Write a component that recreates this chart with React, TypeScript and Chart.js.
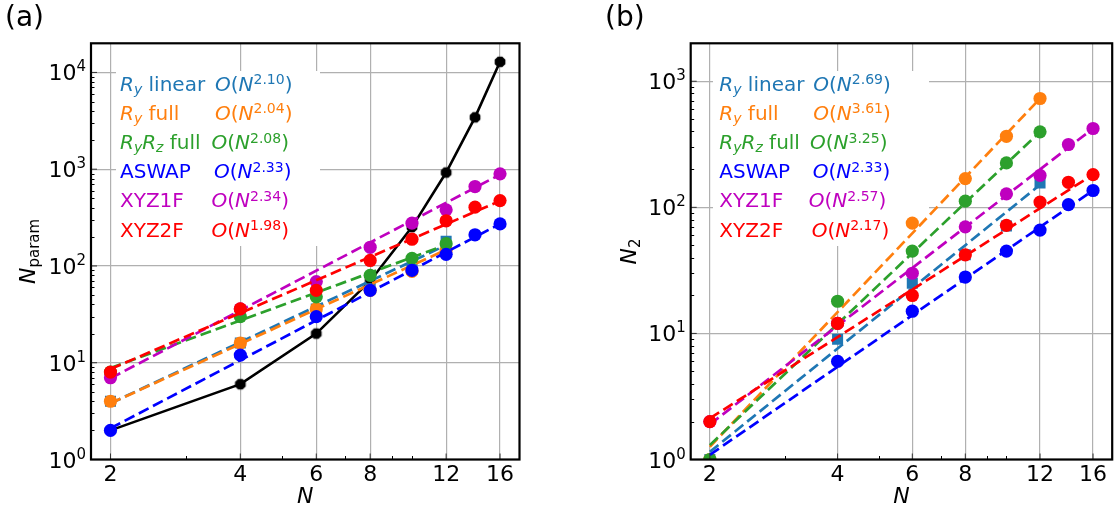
import React, { useEffect, useRef } from "react";
import { Chart, registerables } from "chart.js";

Chart.register(...registerables);

// ---------------- data ----------------
const N_ALL = [2, 4, 6, 8, 10, 12, 14, 16];
const N_TO_12 = [2, 4, 6, 8, 10, 12];
const N_FROM_4 = [4, 6, 8, 10, 12, 14, 16];
const X_TICKS = [2, 4, 6, 8, 12, 16];
const X_MINOR = [3, 5, 7, 9, 10];

// (a) N_param
const A_EXACT = [2, 6, 20, 70, 252, 924, 3432, 12870];
const A_RY_LINEAR = [4, 16, 36, 58, 92, 180];
const A_RY_FULL = [4, 16, 36, 56, 88, 146];
const A_RYRZ_FULL = [8, 30, 48, 80, 120, 170];
const A_ASWAP = [2, 12, 30, 56, 90, 132, 210, 272];
const A_XYZ1F = [7, 36, 69, 156, 277, 380, 662, 896];
const A_XYZ2F = [8, 36, 56, 114, 189, 293, 405, 474];
// fitted power-law lines: value at N=2 and at the last N of the series
const A_FIT_RY_LINEAR = [3.8, 164];
const A_FIT_RY_FULL = [3.8, 147];
const A_FIT_RYRZ_FULL = [8.8, 165];
const A_FIT_ASWAP = [2.1, 272];
const A_FIT_XYZ1F = [6.9, 880];
const A_FIT_XYZ2F = [8.6, 470];
const A_EXPONENTS = ["2.10", "2.04", "2.08", "2.33", "2.34", "1.98"];
const A_Y_TICK_EXPS = [0, 1, 2, 3, 4];

// (b) N_2
const B_RY_LINEAR = [1, 9, 25, 42, 71, 156];
const B_RY_FULL = [1, 12, 75, 169, 366, 730];
const B_RYRZ_FULL = [1, 18, 45, 112, 225, 397];
const B_ASWAP = [6, 15, 28, 45, 66, 105, 136];
const B_XYZ1F = [2, 12, 30, 70, 128, 179, 315, 422];
const B_XYZ2F = [2, 12, 20, 42, 72, 110, 158, 182];
const B_FIT_RY_LINEAR = [1.15, 151];
const B_FIT_RY_FULL = [1.26, 730];
const B_FIT_RYRZ_FULL = [1.3, 397];
const B_FIT_ASWAP = [1.09, 136];
const B_FIT_XYZ1F = [1.9, 422];
const B_FIT_XYZ2F = [2.12, 182];
const B_EXPONENTS = ["2.69", "3.61", "3.25", "2.33", "2.57", "2.17"];
const B_Y_TICK_EXPS = [0, 1, 2, 3];

// ---------------- styles ----------------
const COLORS = ["#1f77b4", "#ff7f0e", "#2ca02c", "#0000ff", "#bf00bf", "#ff0000"];
const MARKERS = ["rect", "circle", "circle", "circle", "circle", "circle"];
const FONT = '"DejaVu Sans"';

type Seg = { t: string; k: "n" | "i" | "sub" | "subn" | "sup" };

const NAME_SEGS: Seg[][] = [
  [{ t: "R", k: "i" }, { t: "y", k: "sub" }, { t: " linear", k: "n" }],
  [{ t: "R", k: "i" }, { t: "y", k: "sub" }, { t: " full", k: "n" }],
  [{ t: "R", k: "i" }, { t: "y", k: "sub" }, { t: "R", k: "i" }, { t: "z", k: "sub" }, { t: " full", k: "n" }],
  [{ t: "ASWAP", k: "n" }],
  [{ t: "XYZ1F", k: "n" }],
  [{ t: "XYZ2F", k: "n" }],
];

function segFont(s: Seg, size: number) {
  if (s.k === "i") return `italic ${size}px ${FONT}`;
  if (s.k === "sub") return `italic ${Math.round(size * 0.7)}px ${FONT}`;
  if (s.k === "subn" || s.k === "sup") return `${Math.round(size * 0.7)}px ${FONT}`;
  return `${size}px ${FONT}`;
}

function drawRich(ctx: CanvasRenderingContext2D, segs: Seg[], x: number, y: number, size: number, supRaise: number) {
  let cx = x;
  for (const s of segs) {
    let dy = 0;
    if (s.k === "sub") dy = size * 0.17;
    else if (s.k === "subn") dy = size * 0.2;
    else if (s.k === "sup") dy = -supRaise;
    ctx.font = segFont(s, size);
    ctx.fillText(s.t, cx, y + dy);
    cx += ctx.measureText(s.t).width;
  }
  return cx - x;
}

function measureRich(ctx: CanvasRenderingContext2D, segs: Seg[], size: number) {
  let w = 0;
  for (const s of segs) {
    ctx.font = segFont(s, size);
    w += ctx.measureText(s.t).width;
  }
  return w;
}

function octagonImage(r: number, color: string) {
  const c = document.createElement("canvas");
  const s = Math.ceil(r * 2 + 2);
  c.width = s;
  c.height = s;
  const g = c.getContext("2d")!;
  g.fillStyle = color;
  g.beginPath();
  for (let k = 0; k < 8; k++) {
    const a = Math.PI / 8 + (k * Math.PI) / 4;
    const px = s / 2 + r * Math.cos(a);
    const py = s / 2 + r * Math.sin(a);
    if (k === 0) g.moveTo(px, py);
    else g.lineTo(px, py);
  }
  g.closePath();
  g.fill();
  return c;
}

type Panel = {
  id: string;
  exact: number[] | null;
  series: number[][];
  seriesN: number[][];
  fits: number[][];
  exps: string[];
  yTickExps: number[];
  yMax: number;
  padding: { left: number; right: number; top: number; bottom: number };
  box: [number, number, number, number];
  legendX: number;
  formulaOffsets: number[];
  yTitle: Seg[];
  yTitleX: number;
  label: string;
  labelX: number;
};

const PANELS: Panel[] = [
  {
    id: "a",
    exact: A_EXACT,
    series: [A_RY_LINEAR, A_RY_FULL, A_RYRZ_FULL, A_ASWAP, A_XYZ1F, A_XYZ2F],
    seriesN: [N_TO_12, N_TO_12, N_TO_12, N_ALL, N_ALL, N_ALL],
    fits: [A_FIT_RY_LINEAR, A_FIT_RY_FULL, A_FIT_RYRZ_FULL, A_FIT_ASWAP, A_FIT_XYZ1F, A_FIT_XYZ2F],
    exps: A_EXPONENTS,
    yTickExps: A_Y_TICK_EXPS,
    yMax: 2e4,
    padding: { left: 91, right: 40.5, top: 43.3, bottom: 50.5 },
    box: [116, 71, 204, 175],
    legendX: 120,
    formulaOffsets: [95, 95, 91.5, 94, 91.5, 91.5],
    yTitle: [{ t: "N", k: "i" }, { t: "param", k: "subn" }],
    yTitleX: 35,
    label: "(a)",
    labelX: 5,
  },
  {
    id: "b",
    exact: null,
    series: [B_RY_LINEAR, B_RY_FULL, B_RYRZ_FULL, B_ASWAP, B_XYZ1F, B_XYZ2F],
    seriesN: [N_TO_12, N_TO_12, N_TO_12, N_FROM_4, N_ALL, N_ALL],
    fits: [B_FIT_RY_LINEAR, B_FIT_RY_FULL, B_FIT_RYRZ_FULL, B_FIT_ASWAP, B_FIT_XYZ1F, B_FIT_XYZ2F],
    exps: B_EXPONENTS,
    yTickExps: B_Y_TICK_EXPS,
    yMax: 2e3,
    padding: { left: 130.7, right: 1.3, top: 43.3, bottom: 50.5 },
    box: [153, 71, 216, 175],
    legendX: 159.3,
    formulaOffsets: [94, 94, 90.7, 93.4, 89.5, 92.4],
    yTitle: [{ t: "N", k: "i" }, { t: "2", k: "subn" }],
    yTitleX: 76,
    label: "(b)",
    labelX: 45,
  },
];

function buildDatasets(p: Panel) {
  const ds: any[] = [];
  if (p.exact) {
    ds.push({
      data: N_ALL.map((n, i) => ({ x: n, y: p.exact![i] })),
      borderColor: "#000000",
      borderWidth: 2.6,
      showLine: true,
      pointStyle: octagonImage(5.8, "#000000"),
      pointRadius: 6,
    });
  }
  p.series.forEach((vals, k) => {
    const ns = p.seriesN[k];
    ds.push({
      data: ns.map((n, i) => ({ x: n, y: vals[i] })),
      showLine: false,
      pointStyle: MARKERS[k],
      pointRadius: MARKERS[k] === "rect" ? 7.8 : 6.6,
      pointBackgroundColor: COLORS[k],
      pointBorderColor: COLORS[k],
      pointBorderWidth: 0,
      borderColor: COLORS[k],
    });
    ds.push({
      data: [
        { x: 2, y: p.fits[k][0] },
        { x: ns[ns.length - 1], y: p.fits[k][1] },
      ],
      showLine: true,
      borderColor: COLORS[k],
      borderWidth: 2.7,
      borderDash: [11, 5],
      pointRadius: 0,
    });
  });
  ds.forEach((d, i) => {
    d.order = -i;
    d.clip = 0;
    d.tension = 0;
  });
  return ds;
}

function overlayPlugin(p: Panel) {
  return {
    id: "overlay_" + p.id,
    beforeDatasetsDraw(chart: any) {
      const ctx: CanvasRenderingContext2D = chart.ctx;
      ctx.save();
      ctx.fillStyle = "#ffffff";
      ctx.fillRect(p.box[0], p.box[1], p.box[2], p.box[3]);
      ctx.restore();
    },
    afterDraw(chart: any) {
      const ctx: CanvasRenderingContext2D = chart.ctx;
      const a = chart.chartArea;
      const xs = chart.scales.x;
      const ys = chart.scales.y;
      ctx.save();

      // legend text
      ctx.textBaseline = "alphabetic";
      ctx.textAlign = "left";
      for (let k = 0; k < 6; k++) {
        const by = 90.6 + 29.2 * k;
        ctx.fillStyle = COLORS[k];
        drawRich(ctx, NAME_SEGS[k], p.legendX, by, 20, 6.5);
        const f: Seg[] = [
          { t: "O", k: "i" },
          { t: "(", k: "n" },
          { t: "N", k: "i" },
          { t: p.exps[k], k: "sup" },
          { t: ")", k: "n" },
        ];
        drawRich(ctx, f, p.legendX + p.formulaOffsets[k], by, 20, 6.5);
      }

      // minor ticks
      ctx.strokeStyle = "#000000";
      ctx.lineWidth = 1;
      const yMaxExp = Math.ceil(Math.log10(p.yMax));
      ctx.beginPath();
      for (let e = 0; e <= yMaxExp; e++) {
        for (let m = 2; m <= 9; m++) {
          const v = m * Math.pow(10, e);
          if (v > p.yMax) continue;
          const py = Math.round(ys.getPixelForValue(v)) + 0.5;
          ctx.moveTo(a.left, py);
          ctx.lineTo(a.left + 3.5, py);
        }
      }
      for (const v of X_MINOR) {
        const px = Math.round(xs.getPixelForValue(v)) + 0.5;
        ctx.moveTo(px, a.bottom);
        ctx.lineTo(px, a.bottom - 3.5);
      }
      ctx.stroke();
      // major ticks
      ctx.strokeStyle = "#333333";
      ctx.beginPath();
      for (const e of p.yTickExps) {
        const py = ys.getPixelForValue(Math.pow(10, e));
        ctx.moveTo(a.left, py);
        ctx.lineTo(a.left + 6, py);
      }
      for (const v of X_TICKS) {
        const px = xs.getPixelForValue(v);
        ctx.moveTo(px, a.bottom);
        ctx.lineTo(px, a.bottom - 6);
      }
      ctx.stroke();

      // frame
      ctx.strokeStyle = "#000000";
      ctx.lineWidth = 2.2;
      ctx.strokeRect(a.left, a.top, a.right - a.left, a.bottom - a.top);

      // tick labels
      ctx.fillStyle = "#000000";
      ctx.textAlign = "center";
      ctx.font = `22px ${FONT}`;
      for (const v of X_TICKS) {
        ctx.fillText(String(v), xs.getPixelForValue(v), 480.5);
      }
      ctx.textAlign = "left";
      for (const e of p.yTickExps) {
        const py = ys.getPixelForValue(Math.pow(10, e));
        ctx.font = `22px ${FONT}`;
        const w1 = ctx.measureText("10").width;
        ctx.font = `15px ${FONT}`;
        const w2 = ctx.measureText(String(e)).width;
        const x0 = a.left - 5 - w1 - w2;
        ctx.font = `22px ${FONT}`;
        ctx.fillText("10", x0, py + 8);
        ctx.font = `15px ${FONT}`;
        ctx.fillText(String(e), x0 + w1, py - 1);
      }

      // axis titles
      ctx.textAlign = "center";
      ctx.font = `italic 22px ${FONT}`;
      ctx.fillText("N", (a.left + a.right) / 2, 503);
      ctx.textAlign = "left";
      const tw = measureRich(ctx, p.yTitle, 22);
      ctx.save();
      ctx.translate(p.yTitleX, (a.top + a.bottom) / 2);
      ctx.rotate(-Math.PI / 2);
      drawRich(ctx, p.yTitle, -tw / 2, 0, 22, 0);
      ctx.restore();

      // panel label
      ctx.font = `28px ${FONT}`;
      ctx.fillText(p.label, p.labelX, 26);
      ctx.restore();
    },
  };
}

function PanelChart({ panel, left }: { panel: Panel; left: number }) {
  const ref = useRef<HTMLCanvasElement | null>(null);
  useEffect(() => {
    if (!ref.current) return;
    const chart = new Chart(ref.current, {
      type: "line",
      data: { datasets: buildDatasets(panel) },
      options: {
        animation: false,
        responsive: false,
        maintainAspectRatio: false,
        events: [],
        devicePixelRatio: 1,
        layout: { padding: panel.padding },
        plugins: { legend: { display: false }, tooltip: { enabled: false } },
        scales: {
          x: {
            type: "logarithmic",
            min: 2 * Math.pow(2, -0.15),
            max: 16 * Math.pow(2, 0.15),
            ticks: { display: false },
            grid: { color: "#b0b0b0", lineWidth: 1.2, drawTicks: false },
            border: { display: false },
            afterBuildTicks: (s: any) => {
              s.ticks = X_TICKS.map((v) => ({ value: v }));
            },
            afterFit: (s: any) => {
              s.height = 0;
            },
          },
          y: {
            type: "logarithmic",
            min: 1,
            max: panel.yMax,
            ticks: { display: false },
            grid: { color: "#b0b0b0", lineWidth: 1.2, drawTicks: false },
            border: { display: false },
            afterBuildTicks: (s: any) => {
              s.ticks = panel.yTickExps.map((e) => ({ value: Math.pow(10, e) }));
            },
            afterFit: (s: any) => {
              s.width = 0;
            },
          },
        },
      } as any,
      plugins: [overlayPlugin(panel)],
    });
    return () => chart.destroy();
  }, [panel]);
  return (
    <canvas
      ref={ref}
      width={560}
      height={510}
      style={{ position: "absolute", left, top: 0, width: 560, height: 510 }}
    />
  );
}

export default function App() {
  return (
    <div
      style={{
        position: "absolute",
        left: 0,
        top: 0,
        width: 1120,
        height: 510,
        background: "#ffffff",
        overflow: "hidden",
      }}
    >
      <PanelChart panel={PANELS[0]} left={0} />
      <PanelChart panel={PANELS[1]} left={560} />
    </div>
  );
}
